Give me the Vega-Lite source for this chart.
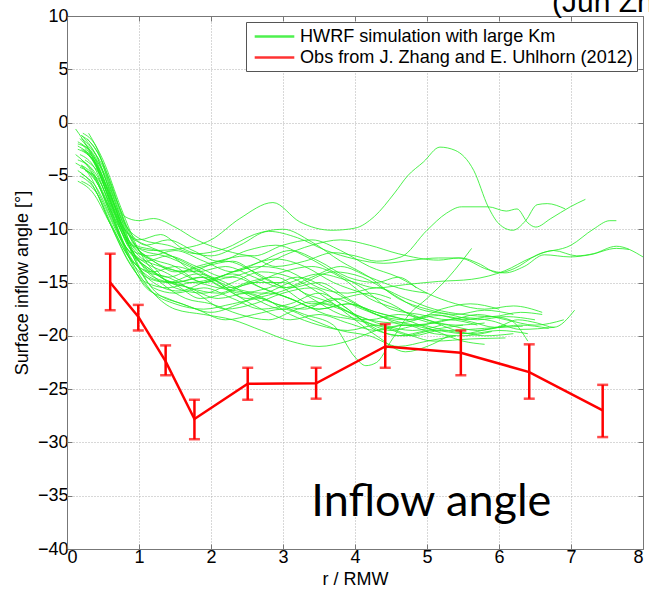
{
"$schema": "https://vega.github.io/schema/vega-lite/v6.json",
"width": 576, "height": 533,
"autosize": {"type": "none"},
"padding": {"left": 67, "top": 16, "right": 6, "bottom": 43},
"background": "white",
"config": {
  "view": {"stroke": null},
  "axis": {"labelFont": "Liberation Sans", "titleFont": "Liberation Sans", "labelFontSize": 18, "titleFontSize": 18, "titleFontWeight": "normal", "labelColor": "#000", "titleColor": "#000", "domainColor": "#777", "tickColor": "#777", "gridColor": "#b0b0b0", "gridDash": [1, 2], "gridWidth": 1}
},
"datasets": {
 "sim": [
  {"c":1,"r":0.12,"a":-0.6},{"c":1,"r":0.3,"a":-2.5},{"c":1,"r":0.5,"a":-5.5},{"c":1,"r":0.7,"a":-9},{"c":1,"r":0.9,"a":-11.5},{"c":1,"r":1.2,"a":-12},{"c":1,"r":1.6,"a":-11.8},{"c":1,"r":2.0,"a":-11},{"c":1,"r":2.4,"a":-9},{"c":1,"r":2.86,"a":-7.5},{"c":1,"r":3.23,"a":-9.3},{"c":1,"r":3.68,"a":-10.1},{"c":1,"r":4.0,"a":-9.9},{"c":1,"r":4.27,"a":-8.8},{"c":1,"r":4.55,"a":-6.6},{"c":1,"r":4.73,"a":-5},{"c":1,"r":4.95,"a":-3.7},{"c":1,"r":5.18,"a":-2.3},{"c":1,"r":5.39,"a":-2.6},{"c":1,"r":5.65,"a":-4.5},{"c":1,"r":5.85,"a":-7.9},{"c":1,"r":6.0,"a":-9.5},{"c":1,"r":6.19,"a":-10.1},{"c":1,"r":6.37,"a":-9.2},{"c":1,"r":6.53,"a":-7.7},{"c":1,"r":6.67,"a":-7.6},{"c":1,"r":6.92,"a":-8.1},
  {"c":2,"r":0.2,"a":-1.2},{"c":2,"r":0.4,"a":-3},{"c":2,"r":0.6,"a":-6.5},{"c":2,"r":0.8,"a":-10.5},{"c":2,"r":1.0,"a":-12.5},{"c":2,"r":1.3,"a":-13.5},{"c":2,"r":1.7,"a":-14},{"c":2,"r":2.1,"a":-13},{"c":2,"r":2.5,"a":-12.5},{"c":2,"r":2.9,"a":-13.5},{"c":2,"r":3.3,"a":-13},{"c":2,"r":3.7,"a":-12.2},{"c":2,"r":4.0,"a":-12.5},{"c":2,"r":4.3,"a":-13},{"c":2,"r":4.64,"a":-12.6},{"c":2,"r":5.0,"a":-10.1},{"c":2,"r":5.27,"a":-8.5},{"c":2,"r":5.48,"a":-7.9},{"c":2,"r":5.85,"a":-7.9},{"c":2,"r":6.1,"a":-8.3},{"c":2,"r":6.25,"a":-8.1},{"c":2,"r":6.4,"a":-9.4},{"c":2,"r":6.51,"a":-9.8},{"c":2,"r":6.72,"a":-9.0},{"c":2,"r":6.99,"a":-7.9},{"c":2,"r":7.2,"a":-7.2},
  {"c":3,"r":0.15,"a":-2.5},{"c":3,"r":0.35,"a":-3.5},{"c":3,"r":0.55,"a":-6.5},{"c":3,"r":0.8,"a":-10},{"c":3,"r":1.0,"a":-11},{"c":3,"r":1.3,"a":-10.5},{"c":3,"r":1.6,"a":-11.8},{"c":3,"r":2.0,"a":-12.5},{"c":3,"r":2.4,"a":-11.5},{"c":3,"r":2.8,"a":-10.2},{"c":3,"r":3.2,"a":-10.8},{"c":3,"r":3.6,"a":-12},{"c":3,"r":4.0,"a":-12.8},{"c":3,"r":4.4,"a":-13.2},{"c":3,"r":4.8,"a":-12.9},{"c":3,"r":5.16,"a":-12.7},{"c":3,"r":5.48,"a":-12.7},{"c":3,"r":5.71,"a":-13.2},{"c":3,"r":5.99,"a":-14.1},{"c":3,"r":6.21,"a":-13.7},{"c":3,"r":6.53,"a":-12.4},{"c":3,"r":7.0,"a":-11.5},{"c":3,"r":7.31,"a":-10.0},{"c":3,"r":7.54,"a":-9.2},{"c":3,"r":7.63,"a":-9.2},
  {"c":4,"r":0.2,"a":-2.5},{"c":4,"r":0.4,"a":-4},{"c":4,"r":0.6,"a":-7.5},{"c":4,"r":0.85,"a":-11.5},{"c":4,"r":1.1,"a":-13},{"c":4,"r":1.4,"a":-12.5},{"c":4,"r":1.8,"a":-13.5},{"c":4,"r":2.2,"a":-14.5},{"c":4,"r":2.6,"a":-13.8},{"c":4,"r":3.0,"a":-12.5},{"c":4,"r":3.4,"a":-11.5},{"c":4,"r":3.8,"a":-11},{"c":4,"r":4.2,"a":-11.5},{"c":4,"r":4.6,"a":-12.3},{"c":4,"r":5.16,"a":-12.9},{"c":4,"r":5.44,"a":-12.7},{"c":4,"r":5.85,"a":-13.8},{"c":4,"r":6.08,"a":-14.1},{"c":4,"r":6.35,"a":-13.5},{"c":4,"r":6.63,"a":-12.4},{"c":4,"r":6.99,"a":-12.6},{"c":4,"r":7.26,"a":-12.4},{"c":4,"r":7.63,"a":-11.8},{"c":4,"r":7.81,"a":-11.9},
  {"c":5,"r":0.18,"a":-1.5},{"c":5,"r":0.4,"a":-3.5},{"c":5,"r":0.65,"a":-8},{"c":5,"r":0.9,"a":-12},{"c":5,"r":1.2,"a":-14},{"c":5,"r":1.5,"a":-15},{"c":5,"r":1.9,"a":-14.5},{"c":5,"r":2.3,"a":-15.5},{"c":5,"r":2.7,"a":-16},{"c":5,"r":3.1,"a":-15},{"c":5,"r":3.5,"a":-14.2},{"c":5,"r":3.9,"a":-14.8},{"c":5,"r":4.3,"a":-15.5},{"c":5,"r":4.7,"a":-15.2},{"c":5,"r":5.16,"a":-14.9},{"c":5,"r":5.62,"a":-14.7},{"c":5,"r":6.08,"a":-13.9},{"c":5,"r":6.44,"a":-12.7},{"c":5,"r":6.76,"a":-12.0},{"c":5,"r":7.08,"a":-12.5},{"c":5,"r":7.31,"a":-12.3},{"c":5,"r":7.63,"a":-11.6},{"c":5,"r":8.0,"a":-12.6},
  {"c":6,"r":0.2,"a":-4},{"c":6,"r":0.4,"a":-5.5},{"c":6,"r":0.7,"a":-9.5},{"c":6,"r":1.0,"a":-13},{"c":6,"r":1.3,"a":-14.5},{"c":6,"r":1.7,"a":-15.5},{"c":6,"r":2.1,"a":-16.5},{"c":6,"r":2.5,"a":-16},{"c":6,"r":2.9,"a":-17},{"c":6,"r":3.3,"a":-18},{"c":6,"r":3.7,"a":-19},{"c":6,"r":4.0,"a":-22},{"c":6,"r":4.15,"a":-22.8},{"c":6,"r":4.3,"a":-22.5},{"c":6,"r":4.5,"a":-20.5},{"c":6,"r":4.75,"a":-18},{"c":6,"r":5.0,"a":-16.5},{"c":6,"r":5.3,"a":-14.5},{"c":6,"r":5.62,"a":-11.8},
  {"c":7,"r":0.15,"a":-3.5},{"c":7,"r":0.35,"a":-4.5},{"c":7,"r":0.6,"a":-8.5},{"c":7,"r":0.85,"a":-12.5},{"c":7,"r":1.1,"a":-14.5},{"c":7,"r":1.4,"a":-15},{"c":7,"r":1.8,"a":-14.2},{"c":7,"r":2.2,"a":-15},{"c":7,"r":2.6,"a":-16.5},{"c":7,"r":3.0,"a":-17.5},{"c":7,"r":3.4,"a":-16.8},{"c":7,"r":3.8,"a":-17.5},{"c":7,"r":4.2,"a":-18.5},{"c":7,"r":4.6,"a":-18.8},{"c":7,"r":5.16,"a":-18.1},{"c":7,"r":5.62,"a":-18.7},{"c":7,"r":5.94,"a":-19.2},{"c":7,"r":6.26,"a":-18.5},{"c":7,"r":6.53,"a":-18.8},{"c":7,"r":6.76,"a":-19.2},{"c":7,"r":7.05,"a":-17.6},
  {"c":8,"r":0.2,"a":-2},{"c":8,"r":0.4,"a":-3.8},{"c":8,"r":0.6,"a":-7.5},{"c":8,"r":0.85,"a":-11},{"c":8,"r":1.1,"a":-12.5},{"c":8,"r":1.5,"a":-13.5},{"c":8,"r":1.9,"a":-15},{"c":8,"r":2.3,"a":-14.5},{"c":8,"r":2.7,"a":-15.5},{"c":8,"r":3.1,"a":-16.5},{"c":8,"r":3.5,"a":-17.5},{"c":8,"r":3.9,"a":-17},{"c":8,"r":4.3,"a":-18},{"c":8,"r":4.7,"a":-19},{"c":8,"r":5.1,"a":-18.8},{"c":8,"r":5.5,"a":-18.3},{"c":8,"r":5.9,"a":-18.6},{"c":8,"r":6.3,"a":-19.4},{"c":8,"r":6.77,"a":-19.2},
  {"c":9,"r":0.25,"a":-2.5},{"c":9,"r":0.45,"a":-4.5},{"c":9,"r":0.7,"a":-8.5},{"c":9,"r":0.95,"a":-13},{"c":9,"r":1.2,"a":-15.5},{"c":9,"r":1.5,"a":-16},{"c":9,"r":1.9,"a":-15.5},{"c":9,"r":2.3,"a":-16.5},{"c":9,"r":2.7,"a":-17.5},{"c":9,"r":3.1,"a":-17},{"c":9,"r":3.5,"a":-16},{"c":9,"r":3.9,"a":-17.5},{"c":9,"r":4.3,"a":-19.5},{"c":9,"r":4.7,"a":-20},{"c":9,"r":5.1,"a":-19.5},{"c":9,"r":5.5,"a":-19.8},{"c":9,"r":5.9,"a":-19.3},{"c":9,"r":6.3,"a":-19.0},{"c":9,"r":6.69,"a":-19.3},
  {"c":10,"r":0.15,"a":-4.5},{"c":10,"r":0.35,"a":-5.8},{"c":10,"r":0.6,"a":-9.5},{"c":10,"r":0.9,"a":-13.5},{"c":10,"r":1.2,"a":-16},{"c":10,"r":1.5,"a":-17},{"c":10,"r":1.9,"a":-17.5},{"c":10,"r":2.3,"a":-17},{"c":10,"r":2.7,"a":-16.5},{"c":10,"r":3.1,"a":-18},{"c":10,"r":3.5,"a":-19},{"c":10,"r":3.9,"a":-19.5},{"c":10,"r":4.3,"a":-19},{"c":10,"r":4.7,"a":-19.8},{"c":10,"r":5.1,"a":-20.5},{"c":10,"r":5.6,"a":-20.3},{"c":10,"r":6.09,"a":-20.2},
  {"c":11,"r":0.2,"a":-1.5},{"c":11,"r":0.4,"a":-3},{"c":11,"r":0.65,"a":-7.5},{"c":11,"r":0.9,"a":-11.5},{"c":11,"r":1.2,"a":-13},{"c":11,"r":1.5,"a":-14},{"c":11,"r":1.9,"a":-13.5},{"c":11,"r":2.3,"a":-13},{"c":11,"r":2.7,"a":-14.5},{"c":11,"r":3.1,"a":-15.5},{"c":11,"r":3.5,"a":-15},{"c":11,"r":3.9,"a":-16.5},{"c":11,"r":4.3,"a":-18},{"c":11,"r":4.7,"a":-18.5},{"c":11,"r":5.1,"a":-18},{"c":11,"r":5.5,"a":-18.5},{"c":11,"r":5.9,"a":-18.2},{"c":11,"r":6.15,"a":-18.5},{"c":11,"r":6.4,"a":-20.5},
  {"c":12,"r":0.3,"a":-1},{"c":12,"r":0.5,"a":-3.5},{"c":12,"r":0.75,"a":-8},{"c":12,"r":1.0,"a":-12},{"c":12,"r":1.3,"a":-14.5},{"c":12,"r":1.7,"a":-15.5},{"c":12,"r":2.1,"a":-16},{"c":12,"r":2.5,"a":-15},{"c":12,"r":2.9,"a":-14.5},{"c":12,"r":3.3,"a":-16},{"c":12,"r":3.7,"a":-17},{"c":12,"r":4.1,"a":-18.5},{"c":12,"r":4.5,"a":-19.5},{"c":12,"r":4.9,"a":-19},{"c":12,"r":5.3,"a":-19.5},{"c":12,"r":5.8,"a":-19.3},{"c":12,"r":6.33,"a":-19.1},
  {"c":13,"r":0.15,"a":-5.5},{"c":13,"r":0.35,"a":-6.5},{"c":13,"r":0.6,"a":-9.5},{"c":13,"r":0.85,"a":-12.5},{"c":13,"r":1.1,"a":-14},{"c":13,"r":1.4,"a":-14.5},{"c":13,"r":1.8,"a":-16},{"c":13,"r":2.2,"a":-17.5},{"c":13,"r":2.6,"a":-17},{"c":13,"r":3.0,"a":-16},{"c":13,"r":3.4,"a":-15.5},{"c":13,"r":3.8,"a":-17},{"c":13,"r":4.2,"a":-19},{"c":13,"r":4.6,"a":-20},{"c":13,"r":5.0,"a":-19.5},{"c":13,"r":5.5,"a":-19},
  {"c":14,"r":0.2,"a":-3.5},{"c":14,"r":0.4,"a":-4.8},{"c":14,"r":0.65,"a":-8.5},{"c":14,"r":0.9,"a":-12},{"c":14,"r":1.15,"a":-12.5},{"c":14,"r":1.5,"a":-12},{"c":14,"r":1.9,"a":-13},{"c":14,"r":2.3,"a":-14},{"c":14,"r":2.7,"a":-13},{"c":14,"r":3.1,"a":-12},{"c":14,"r":3.5,"a":-13},{"c":14,"r":3.9,"a":-14.5},{"c":14,"r":4.3,"a":-15},{"c":14,"r":4.6,"a":-14.5},{"c":14,"r":4.85,"a":-15.5},
  {"c":15,"r":0.2,"a":-1.2},{"c":15,"r":0.4,"a":-2.5},{"c":15,"r":0.6,"a":-5.5},{"c":15,"r":0.8,"a":-8.8},{"c":15,"r":1.0,"a":-9.2},{"c":15,"r":1.2,"a":-9},{"c":15,"r":1.5,"a":-9.8},{"c":15,"r":1.8,"a":-11},{"c":15,"r":2.2,"a":-12},{"c":15,"r":2.6,"a":-12.5},{"c":15,"r":3.0,"a":-11.5},{"c":15,"r":3.4,"a":-11},{"c":15,"r":3.8,"a":-12},{"c":15,"r":4.2,"a":-13.5},{"c":15,"r":4.6,"a":-14.5},{"c":15,"r":5.0,"a":-16},{"c":15,"r":5.4,"a":-17},{"c":15,"r":5.8,"a":-17.5},{"c":15,"r":6.2,"a":-17.2},{"c":15,"r":6.6,"a":-17.8},
  {"c":16,"r":0.15,"a":-2},{"c":16,"r":0.35,"a":-2.8},{"c":16,"r":0.55,"a":-5.5},{"c":16,"r":0.8,"a":-9.5},{"c":16,"r":1.05,"a":-11},{"c":16,"r":1.4,"a":-11.5},{"c":16,"r":1.8,"a":-12.3},{"c":16,"r":2.2,"a":-11.8},{"c":16,"r":2.6,"a":-10.5},{"c":16,"r":3.0,"a":-10},{"c":16,"r":3.4,"a":-11.2},{"c":16,"r":3.8,"a":-13},{"c":16,"r":4.2,"a":-14.5},{"c":16,"r":4.6,"a":-16.5},{"c":16,"r":5.0,"a":-17.5},{"c":16,"r":5.4,"a":-18},{"c":16,"r":5.8,"a":-17.6},{"c":16,"r":6.2,"a":-18},
  {"c":17,"r":0.25,"a":-4.5},{"c":17,"r":0.45,"a":-5.5},{"c":17,"r":0.7,"a":-9.5},{"c":17,"r":0.95,"a":-12.5},{"c":17,"r":1.2,"a":-14.5},{"c":17,"r":1.5,"a":-15},{"c":17,"r":1.85,"a":-14.5},{"c":17,"r":2.2,"a":-15.5},{"c":17,"r":2.6,"a":-15},{"c":17,"r":3.0,"a":-14},{"c":17,"r":3.4,"a":-13.5},{"c":17,"r":3.8,"a":-14.5},{"c":17,"r":4.2,"a":-16.5},{"c":17,"r":4.6,"a":-17.5},{"c":17,"r":5.0,"a":-18.5},{"c":17,"r":5.4,"a":-19},{"c":17,"r":5.8,"a":-18.8},
  {"c":18,"r":0.18,"a":-3},{"c":18,"r":0.38,"a":-4.2},{"c":18,"r":0.6,"a":-8},{"c":18,"r":0.85,"a":-12.5},{"c":18,"r":1.1,"a":-15.5},{"c":18,"r":1.4,"a":-16.5},{"c":18,"r":1.8,"a":-17.5},{"c":18,"r":2.2,"a":-18.5},{"c":18,"r":2.6,"a":-18},{"c":18,"r":3.0,"a":-17.5},{"c":18,"r":3.4,"a":-18.5},{"c":18,"r":3.8,"a":-19.5},{"c":18,"r":4.2,"a":-20},{"c":18,"r":4.6,"a":-21},{"c":18,"r":5.0,"a":-20.5},{"c":18,"r":5.4,"a":-20},
  {"c":19,"r":0.22,"a":-2.5},{"c":19,"r":0.42,"a":-4},{"c":19,"r":0.65,"a":-7.5},{"c":19,"r":0.9,"a":-11},{"c":19,"r":1.2,"a":-13.5},{"c":19,"r":1.5,"a":-15.5},{"c":19,"r":1.9,"a":-16},{"c":19,"r":2.3,"a":-15},{"c":19,"r":2.7,"a":-14},{"c":19,"r":3.1,"a":-14.5},{"c":19,"r":3.5,"a":-16},{"c":19,"r":3.9,"a":-18},{"c":19,"r":4.3,"a":-20},{"c":19,"r":4.7,"a":-21.5},{"c":19,"r":5.0,"a":-21},{"c":19,"r":5.3,"a":-20},
  {"c":20,"r":0.12,"a":-3},{"c":20,"r":0.3,"a":-4.2},{"c":20,"r":0.55,"a":-7.5},{"c":20,"r":0.8,"a":-11.5},{"c":20,"r":1.05,"a":-13},{"c":20,"r":1.35,"a":-14},{"c":20,"r":1.7,"a":-15},{"c":20,"r":2.1,"a":-14.5},{"c":20,"r":2.5,"a":-13.5},{"c":20,"r":2.9,"a":-12.8},{"c":20,"r":3.3,"a":-13.5},{"c":20,"r":3.7,"a":-15},{"c":20,"r":4.1,"a":-16},{"c":20,"r":4.5,"a":-17},{"c":20,"r":4.9,"a":-18.5},{"c":20,"r":5.3,"a":-19},{"c":20,"r":5.7,"a":-19.5},{"c":20,"r":6.1,"a":-19},
  {"c":21,"r":0.28,"a":-1.5},{"c":21,"r":0.48,"a":-3.5},{"c":21,"r":0.7,"a":-7.5},{"c":21,"r":0.95,"a":-11.5},{"c":21,"r":1.25,"a":-12},{"c":21,"r":1.6,"a":-13},{"c":21,"r":2.0,"a":-14.5},{"c":21,"r":2.4,"a":-16},{"c":21,"r":2.8,"a":-15.5},{"c":21,"r":3.2,"a":-14.5},{"c":21,"r":3.6,"a":-15.5},{"c":21,"r":4.0,"a":-17},{"c":21,"r":4.4,"a":-18},{"c":21,"r":4.8,"a":-18.5},{"c":21,"r":5.2,"a":-17.5},{"c":21,"r":5.6,"a":-17},{"c":21,"r":6.0,"a":-17.5},
  {"c":22,"r":0.2,"a":-5.5},{"c":22,"r":0.4,"a":-6.5},{"c":22,"r":0.65,"a":-10},{"c":22,"r":0.9,"a":-13},{"c":22,"r":1.2,"a":-14},{"c":22,"r":1.5,"a":-13.5},{"c":22,"r":1.9,"a":-14.5},{"c":22,"r":2.3,"a":-16},{"c":22,"r":2.7,"a":-17.5},{"c":22,"r":3.1,"a":-18.5},{"c":22,"r":3.5,"a":-18},{"c":22,"r":3.9,"a":-18.8},{"c":22,"r":4.3,"a":-19.5},{"c":22,"r":4.7,"a":-19},{"c":22,"r":5.1,"a":-19.5},
  {"c":23,"r":0.15,"a":-1.8},{"c":23,"r":0.35,"a":-3},{"c":23,"r":0.6,"a":-7},{"c":23,"r":0.85,"a":-10.5},{"c":23,"r":1.1,"a":-11.5},{"c":23,"r":1.45,"a":-12.5},{"c":23,"r":1.8,"a":-14},{"c":23,"r":2.2,"a":-13.5},{"c":23,"r":2.6,"a":-14.5},{"c":23,"r":3.0,"a":-15.5},{"c":23,"r":3.4,"a":-14.5},{"c":23,"r":3.8,"a":-13.5},{"c":23,"r":4.2,"a":-14.5},{"c":23,"r":4.6,"a":-15.5},{"c":23,"r":5.0,"a":-16},
  {"c":24,"r":0.25,"a":-3.5},{"c":24,"r":0.45,"a":-4.8},{"c":24,"r":0.7,"a":-8.5},{"c":24,"r":0.95,"a":-13},{"c":24,"r":1.2,"a":-15},{"c":24,"r":1.55,"a":-15.8},{"c":24,"r":1.9,"a":-15},{"c":24,"r":2.3,"a":-14.2},{"c":24,"r":2.7,"a":-15.5},{"c":24,"r":3.1,"a":-16.5},{"c":24,"r":3.5,"a":-17.5},{"c":24,"r":3.9,"a":-17},{"c":24,"r":4.3,"a":-17.8},{"c":24,"r":4.7,"a":-18.5},{"c":24,"r":5.1,"a":-19.5},{"c":24,"r":5.5,"a":-20.5},{"c":24,"r":5.8,"a":-20.8},
  {"c":25,"r":0.18,"a":-4.2},{"c":25,"r":0.38,"a":-5.2},{"c":25,"r":0.6,"a":-8.5},{"c":25,"r":0.85,"a":-12},{"c":25,"r":1.1,"a":-13.5},{"c":25,"r":1.4,"a":-14.5},{"c":25,"r":1.8,"a":-13.5},{"c":25,"r":2.2,"a":-13},{"c":25,"r":2.6,"a":-14},{"c":25,"r":3.0,"a":-15.5},{"c":25,"r":3.4,"a":-17},{"c":25,"r":3.8,"a":-16.5},{"c":25,"r":4.2,"a":-16},{"c":25,"r":4.5,"a":-16.5},
  {"c":26,"r":0.3,"a":-2.8},{"c":26,"r":0.5,"a":-4.5},{"c":26,"r":0.75,"a":-9},{"c":26,"r":1.0,"a":-13.5},{"c":26,"r":1.25,"a":-16},{"c":26,"r":1.6,"a":-17},{"c":26,"r":2.0,"a":-17.8},{"c":26,"r":2.4,"a":-17},{"c":26,"r":2.8,"a":-16},{"c":26,"r":3.2,"a":-16.8},{"c":26,"r":3.6,"a":-18},{"c":26,"r":4.0,"a":-18.5},{"c":26,"r":4.4,"a":-19.2},{"c":26,"r":4.8,"a":-20},{"c":26,"r":5.2,"a":-19.5},{"c":26,"r":5.6,"a":-19.8},{"c":26,"r":6.0,"a":-19.5},{"c":26,"r":6.4,"a":-19.8},
  {"c":27,"r":0.15,"a":-2.2},{"c":27,"r":0.35,"a":-3.4},{"c":27,"r":0.55,"a":-6.5},{"c":27,"r":0.8,"a":-10.5},{"c":27,"r":1.05,"a":-12},{"c":27,"r":1.35,"a":-12.5},{"c":27,"r":1.7,"a":-13.5},{"c":27,"r":2.1,"a":-15},{"c":27,"r":2.5,"a":-16.5},{"c":27,"r":2.9,"a":-16},{"c":27,"r":3.3,"a":-15},{"c":27,"r":3.7,"a":-14},{"c":27,"r":4.1,"a":-14.5},{"c":27,"r":4.5,"a":-16},{"c":27,"r":4.9,"a":-17.5},{"c":27,"r":5.3,"a":-18},{"c":27,"r":5.7,"a":-18.5},{"c":27,"r":6.1,"a":-18.2},{"c":27,"r":6.5,"a":-18.5},
  {"c":28,"r":0.2,"a":-4.8},{"c":28,"r":0.4,"a":-6},{"c":28,"r":0.65,"a":-9.5},{"c":28,"r":0.9,"a":-12.8},{"c":28,"r":1.15,"a":-14.5},{"c":28,"r":1.5,"a":-15.2},{"c":28,"r":1.85,"a":-16.5},{"c":28,"r":2.2,"a":-16},{"c":28,"r":2.6,"a":-15},{"c":28,"r":3.0,"a":-15},{"c":28,"r":3.4,"a":-16.5},{"c":28,"r":3.8,"a":-18},{"c":28,"r":4.2,"a":-18.5},{"c":28,"r":4.6,"a":-18},{"c":28,"r":5.0,"a":-18.5},{"c":28,"r":5.4,"a":-19.5},{"c":28,"r":5.8,"a":-20},{"c":28,"r":6.2,"a":-19.8},
  {"c":29,"r":0.22,"a":-1},{"c":29,"r":0.4,"a":-2.2},{"c":29,"r":0.6,"a":-6},{"c":29,"r":0.85,"a":-10},{"c":29,"r":1.1,"a":-11.5},{"c":29,"r":1.4,"a":-11},{"c":29,"r":1.75,"a":-12},{"c":29,"r":2.1,"a":-13},{"c":29,"r":2.5,"a":-12},{"c":29,"r":2.9,"a":-11.5},{"c":29,"r":3.3,"a":-12.5},{"c":29,"r":3.7,"a":-14},{"c":29,"r":4.1,"a":-15.5},{"c":29,"r":4.5,"a":-17.5},{"c":29,"r":4.9,"a":-18},{"c":29,"r":5.3,"a":-18.5},{"c":29,"r":5.7,"a":-18},{"c":29,"r":6.1,"a":-18.5},{"c":29,"r":6.5,"a":-19},{"c":29,"r":6.9,"a":-18.5},
  {"c":30,"r":0.12,"a":-3.8},{"c":30,"r":0.3,"a":-4.8},{"c":30,"r":0.5,"a":-7.5},{"c":30,"r":0.75,"a":-11},{"c":30,"r":1.0,"a":-13},{"c":30,"r":1.3,"a":-15},{"c":30,"r":1.65,"a":-16.5},{"c":30,"r":2.0,"a":-17},{"c":30,"r":2.4,"a":-18},{"c":30,"r":2.8,"a":-18.5},{"c":30,"r":3.2,"a":-17.5},{"c":30,"r":3.6,"a":-17},{"c":30,"r":4.0,"a":-18},{"c":30,"r":4.4,"a":-19},{"c":30,"r":4.8,"a":-19.5},{"c":30,"r":5.2,"a":-19},
  {"c":31,"r":0.25,"a":-2},{"c":31,"r":0.45,"a":-3.5},{"c":31,"r":0.7,"a":-7.5},{"c":31,"r":0.95,"a":-11.5},{"c":31,"r":1.2,"a":-13},{"c":31,"r":1.55,"a":-14},{"c":31,"r":1.9,"a":-15},{"c":31,"r":2.3,"a":-14},{"c":31,"r":2.7,"a":-13.5},{"c":31,"r":3.1,"a":-14},{"c":31,"r":3.5,"a":-15.5},{"c":31,"r":3.9,"a":-16},{"c":31,"r":4.3,"a":-15.5},{"c":31,"r":4.7,"a":-16.5},{"c":31,"r":5.1,"a":-17.5},{"c":31,"r":5.5,"a":-18},{"c":31,"r":5.9,"a":-18.2},{"c":31,"r":6.3,"a":-17.8},{"c":31,"r":6.6,"a":-18},
  {"c":32,"r":0.18,"a":-5},{"c":32,"r":0.38,"a":-6.2},{"c":32,"r":0.6,"a":-9.5},{"c":32,"r":0.85,"a":-13},{"c":32,"r":1.1,"a":-15},{"c":32,"r":1.4,"a":-15.5},{"c":32,"r":1.75,"a":-15},{"c":32,"r":2.1,"a":-15.5},{"c":32,"r":2.5,"a":-16},{"c":32,"r":2.9,"a":-17},{"c":32,"r":3.3,"a":-17.5},{"c":32,"r":3.7,"a":-16.5},{"c":32,"r":4.1,"a":-17.5},{"c":32,"r":4.5,"a":-18.5},{"c":32,"r":4.9,"a":-19},{"c":32,"r":5.3,"a":-18.5},{"c":32,"r":5.7,"a":-19},
  {"c":33,"r":0.2,"a":-4},{"c":33,"r":0.4,"a":-5.2},{"c":33,"r":0.65,"a":-9},{"c":33,"r":0.9,"a":-13},{"c":33,"r":1.2,"a":-16},{"c":33,"r":1.5,"a":-17.5},{"c":33,"r":1.9,"a":-18},{"c":33,"r":2.3,"a":-18.5},{"c":33,"r":2.7,"a":-19.5},{"c":33,"r":3.1,"a":-20.5},{"c":33,"r":3.5,"a":-21},{"c":33,"r":3.9,"a":-20.5},{"c":33,"r":4.3,"a":-19.5},{"c":33,"r":4.7,"a":-19},{"c":33,"r":5.1,"a":-19.8},{"c":33,"r":5.5,"a":-20},{"c":33,"r":5.9,"a":-19.6}
 ],
 "obs": [
  {"r":0.6,"a":-15.0,"lo":-17.6,"hi":-12.3},
  {"r":0.99,"a":-18.2,"lo":-19.5,"hi":-17.1},
  {"r":1.37,"a":-22.4,"lo":-23.7,"hi":-20.9},
  {"r":1.77,"a":-27.8,"lo":-29.7,"hi":-26.0},
  {"r":2.51,"a":-24.5,"lo":-26.0,"hi":-23.0},
  {"r":3.46,"a":-24.45,"lo":-25.9,"hi":-23.0},
  {"r":4.42,"a":-21.0,"lo":-23.0,"hi":-18.9},
  {"r":5.47,"a":-21.6,"lo":-23.7,"hi":-19.5},
  {"r":6.42,"a":-23.4,"lo":-25.9,"hi":-20.8},
  {"r":7.44,"a":-27.0,"lo":-29.5,"hi":-24.6}
 ],
 "notes": [
  {"r":5.06,"a":-36.9,"t":"Inflow angle"}
 ],
 "head": [
  {"r":6.736,"a":10.375,"t":"(Jun Zhang)"}
 ]
},
"layer": [
 {
  "data": {"name": "sim"},
  "mark": {"type": "line", "strokeWidth": 1, "interpolate": "monotone", "opacity": 0.8},
  "encoding": {
   "x": {"field": "r", "type": "quantitative", "scale": {"domain": [0, 8], "nice": false}, "axis": {"values": [0,1,2,3,4,5,6,7,8], "title": "r / RMW", "grid": true, "tickSize": -5, "labelPadding": 4, "titlePadding": 4, "orient": "bottom"}},
   "y": {"field": "a", "type": "quantitative", "scale": {"domain": [-40, 10], "nice": false}, "axis": {"values": [-40,-35,-30,-25,-20,-15,-10,-5,0,5,10], "title": "Surface inflow angle [°]", "grid": true, "tickSize": -5, "labelPadding": 4, "titlePadding": 6, "orient": "left"}},
   "detail": {"field": "c", "type": "nominal"},
   "color": {"datum": "HWRF simulation with large Km", "type": "nominal",
     "scale": {"domain": ["HWRF simulation with large Km", "Obs from J. Zhang and E. Uhlhorn (2012)"], "range": ["#22ee22", "#ff0000"]},
     "legend": {"title": null, "orient": "none", "legendX": 179, "legendY": 6, "fillColor": "white", "strokeColor": "#555", "padding": 4, "labelFont": "Liberation Sans", "labelFontSize": 18.1, "labelColor": "#000", "labelLimit": 500, "labelOffset": 15, "symbolType": "M-2.2,0H2.2", "symbolSize": 324, "symbolOffset": 14, "symbolStrokeWidth": 2.5, "rowPadding": 1, "cornerRadius": 0,
       "encode": {"symbols": {"update": {"strokeWidth": {"signal": "datum.index === 0 ? 1.5 : 2.5"}, "opacity": {"signal": "datum.index === 0 ? 0.6 : 1"}}}}}}
  }
 },
 {
  "data": {"name": "obs"},
  "mark": {"type": "line", "strokeWidth": 2.5},
  "encoding": {
   "x": {"field": "r", "type": "quantitative", "axis": {"orient": "top", "values": [0,1,2,3,4,5,6,7,8], "labels": false, "title": null, "grid": false, "tickSize": -5}},
   "y": {"field": "a", "type": "quantitative", "axis": {"orient": "right", "values": [-40,-35,-30,-25,-20,-15,-10,-5,0,5,10], "labels": false, "title": null, "grid": false, "tickSize": -5}},
   "color": {"datum": "Obs from J. Zhang and E. Uhlhorn (2012)", "type": "nominal"}
  }
 },
 {
  "data": {"name": "obs"},
  "mark": {"type": "errorbar", "color": "#ff0000", "ticks": {"size": 11, "thickness": 2.5}, "rule": {"strokeWidth": 2.5}},
  "encoding": {
   "x": {"field": "r", "type": "quantitative", "axis": null},
   "y": {"field": "lo", "type": "quantitative", "axis": null},
   "y2": {"field": "hi"}
  }
 },
 {
  "data": {"name": "notes"},
  "mark": {"type": "text", "font": "Lato", "fontSize": 45, "align": "center", "baseline": "alphabetic", "color": "#000"},
  "encoding": {
   "x": {"field": "r", "type": "quantitative", "axis": null},
   "y": {"field": "a", "type": "quantitative", "axis": null},
   "text": {"field": "t"}
  }
 },
 {
  "data": {"name": "head"},
  "mark": {"type": "text", "font": "Liberation Sans", "fontSize": 30, "align": "left", "baseline": "alphabetic", "color": "#000"},
  "encoding": {
   "x": {"field": "r", "type": "quantitative", "axis": null},
   "y": {"field": "a", "type": "quantitative", "axis": null},
   "text": {"field": "t"}
  }
 }
],
"resolve": {"axis": {"x": "independent", "y": "independent"}}
}
